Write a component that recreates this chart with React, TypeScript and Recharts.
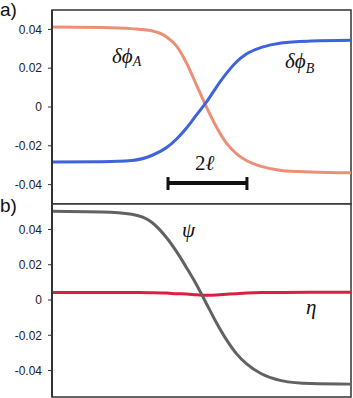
import React from "react";
import { LineChart, Line, XAxis, YAxis, ReferenceArea, ReferenceLine } from "recharts";

// position along the interface (arbitrary units, 0..30)
const positions = [0, 5, 8, 10, 11.5, 12.5, 13.5, 14.5, 15.5, 16.5, 17.5, 18.5, 19.5, 21, 23, 26, 30];

// panel a
const dPhiA = [0.0412, 0.041, 0.0404, 0.0393, 0.0361, 0.0314, 0.0227, 0.0113, 0.0, -0.0103, -0.0186, -0.024, -0.0276, -0.0306, -0.0327, -0.0335, -0.0339];
const dPhiB = [-0.0284, -0.0282, -0.0276, -0.025, -0.0209, -0.0165, -0.0108, -0.0041, 0.0026, 0.0103, 0.0173, 0.0232, 0.0273, 0.0307, 0.033, 0.034, 0.0344];

// panel b
const psi = [0.0503, 0.0499, 0.0486, 0.0441, 0.0353, 0.0274, 0.0183, 0.0087, -0.0021, -0.0129, -0.0225, -0.0304, -0.0361, -0.0418, -0.0457, -0.0474, -0.0477];
const eta = [0.0043, 0.0042, 0.0042, 0.0041, 0.0039, 0.0036, 0.0034, 0.003, 0.0027, 0.0028, 0.0032, 0.0036, 0.0039, 0.0042, 0.0043, 0.0044, 0.0044];

const yTicks = [-0.04, -0.02, 0, 0.02, 0.04];

// scale bar "2ℓ" (data units of panel a)
const barStart = 11.64;
const barEnd = 19.56;
const barY = -0.0392;
const capLow = -0.0428;
const capHigh = -0.0361;

const dataA = positions.map((z, i) => ({ z, a: dPhiA[i], b: dPhiB[i] }));
const dataB = positions.map((z, i) => ({ z, psi: psi[i], eta: eta[i] }));

const fmt = (v: number) => (v === 0 ? "0" : v.toFixed(2));
const tickStyle = { fontSize: 12, fill: "#222", fontFamily: "'Liberation Sans', Arial, sans-serif" };
const mathFont = "'Liberation Serif', 'DejaVu Serif', serif";

export default function App() {
  return (
    <div style={{ position: "absolute", left: 0, top: 0, width: 353, height: 398, background: "#fff" }}>
      <div style={{ position: "absolute", left: 0, top: 0 }}>
        <LineChart width={353} height={205} data={dataA} margin={{ top: 10, right: 2, bottom: 1, left: 0 }}>
          <XAxis type="number" dataKey="z" domain={[0, 30]} hide />
          <YAxis
            domain={[-0.05, 0.05]}
            ticks={yTicks}
            tickFormatter={fmt}
            width={52}
            tickSize={4}
            tickMargin={6}
            tick={tickStyle}
            axisLine={{ stroke: "#333", strokeWidth: 2 }}
            tickLine={{ stroke: "#333" }}
          />
          <ReferenceArea x1={0} x2={30} y1={-0.05} y2={0.05} fill="none" stroke="#333" strokeWidth={1.5} />
          <Line dataKey="a" type="monotone" stroke="#EA9079" strokeWidth={3} dot={false} isAnimationActive={false} />
          <Line dataKey="b" type="monotone" stroke="#3E63DC" strokeWidth={3} dot={false} isAnimationActive={false} />
          <ReferenceLine segment={[{ x: barStart, y: barY }, { x: barEnd, y: barY }]} stroke="#111" strokeWidth={4} />
          <ReferenceLine segment={[{ x: barStart, y: capLow }, { x: barStart, y: capHigh }]} stroke="#111" strokeWidth={3} />
          <ReferenceLine segment={[{ x: barEnd, y: capLow }, { x: barEnd, y: capHigh }]} stroke="#111" strokeWidth={3} />
        </LineChart>
      </div>
      <div style={{ position: "absolute", left: 0, top: 203 }}>
        <LineChart width={353} height={195} data={dataB} margin={{ top: 0, right: 2, bottom: 1, left: 0 }}>
          <XAxis type="number" dataKey="z" domain={[0, 30]} hide />
          <YAxis
            domain={[-0.055, 0.055]}
            ticks={yTicks}
            tickFormatter={fmt}
            width={52}
            tickSize={4}
            tickMargin={6}
            tick={tickStyle}
            axisLine={{ stroke: "#333", strokeWidth: 2 }}
            tickLine={{ stroke: "#333" }}
          />
          <ReferenceArea x1={0} x2={30} y1={-0.055} y2={0.055} fill="none" stroke="#333" strokeWidth={1.5} />
          <Line dataKey="eta" type="monotone" stroke="#DC1F3F" strokeWidth={3} dot={false} isAnimationActive={false} />
          <Line dataKey="psi" type="monotone" stroke="#626262" strokeWidth={3} dot={false} isAnimationActive={false} />
        </LineChart>
      </div>
      <svg width={353} height={398} style={{ position: "absolute", left: 0, top: 0, pointerEvents: "none" }}>
        <g fontFamily="'Liberation Sans', Arial, sans-serif" fontSize={19} fill="#111">
          <text x={0} y={16}>a)</text>
          <text x={0} y={212}>b)</text>
        </g>
        <g fontFamily={mathFont} fontStyle="italic" fill="#111">
          <text x={112} y={63} fontSize={21}>
            δϕ<tspan fontSize={14} dy={3}>A</tspan>
          </text>
          <text x={285} y={68} fontSize={21}>
            δϕ<tspan fontSize={14} dy={5}>B</tspan>
          </text>
          <text x={195} y={170} fontSize={21}>
            <tspan fontStyle="normal">2</tspan>ℓ
          </text>
          <text x={182} y={237} fontSize={21}>ψ</text>
          <text x={306} y={314} fontSize={21}>η</text>
        </g>
      </svg>
    </div>
  );
}
